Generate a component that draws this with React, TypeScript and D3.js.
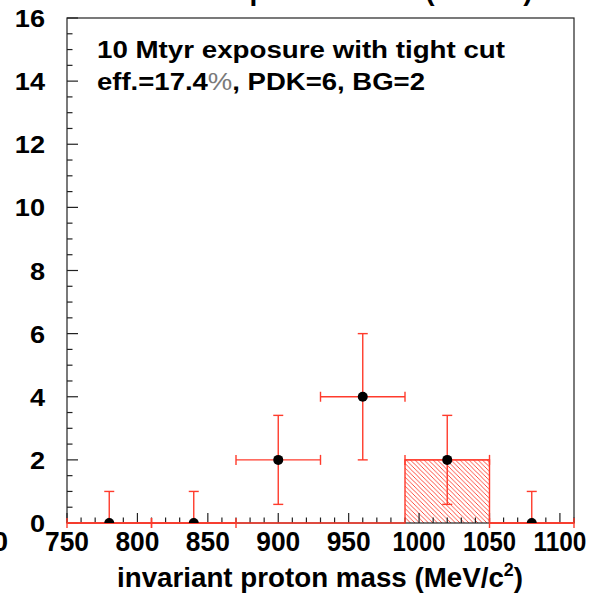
import React from "react"
import { scaleLinear, line, range } from "d3"

// bins of the invariant mass histogram (MeV/c^2)
const binCenters = [780, 840, 900, 960, 1020, 1080]
const binWidth = 60
const observed = [0, 0, 2, 4, 2, 0]
const errLow = [0, 0, 1.41, 2, 1.41, 0]
const errHigh = [1, 1, 1.41, 2, 1.41, 1]
const background = [0, 0, 0, 0, 2, 0]

const xTicks = [750, 800, 850, 900, 950, 1000, 1050, 1100]
const yTicks = [0, 2, 4, 6, 8, 10, 12, 14, 16]

const RED = "#ff3b2c"
const FONT = "'Liberation Sans', Arial, Helvetica, sans-serif"

const App = () => {
  const width = 593
  const height = 600
  const margin = { top: 18, right: 19, bottom: 77, left: 67 }
  const innerRight = width - margin.right
  const innerBottom = height - margin.bottom

  const x = scaleLinear().domain([750, 1110]).range([margin.left, innerRight])
  const y = scaleLinear().domain([0, 16]).range([innerBottom, margin.top])

  const minorX = range(750, 1111, 10)
  const minorY = range(0, 16.01, 0.5)

  // background histogram outline (step)
  const bgPoints: [number, number][] = [[750, 0]]
  binCenters.forEach((c, i) => {
    bgPoints.push([c - binWidth / 2, background[i]])
    bgPoints.push([c + binWidth / 2, background[i]])
  })
  bgPoints.push([1110, 0])
  const bgPath = line<[number, number]>()
    .x((d) => x(d[0]))
    .y((d) => y(d[1]))(bgPoints)

  const cap = 5

  return (
    <svg
      width={width}
      height={height}
      style={{ position: "absolute", left: 0, top: 0, background: "white" }}
      fontFamily={FONT}
    >
      <defs>
        <clipPath id="frame">
          <rect
            x={margin.left}
            y={margin.top}
            width={innerRight - margin.left}
            height={innerBottom - margin.top}
          />
        </clipPath>
        <pattern id="hatch" width={4.5} height={4.5} patternUnits="userSpaceOnUse">
          <path
            d="M-1,-1 L5.5,5.5 M-1,3.5 L1,5.5 M3.5,-1 L5.5,1"
            stroke={RED}
            strokeWidth={0.9}
          />
        </pattern>
      </defs>
      <rect width={width} height={height} fill="white" />

      {/* cut-off title of the original figure */}
      <text x={125} y={0} fontSize={28} fontWeight="bold">
        Invariant proton mass (events)
      </text>
      {/* leftover label of a neighbouring panel */}
      <text x={8} y={551} fontSize={28} fontWeight="bold" textAnchor="end">
        1100
      </text>

      {/* background histogram */}
      {binCenters.map((c, i) =>
        background[i] > 0 ? (
          <rect
            key={"bg" + i}
            x={x(c - binWidth / 2)}
            y={y(background[i])}
            width={x(c + binWidth / 2) - x(c - binWidth / 2)}
            height={y(0) - y(background[i])}
            fill="url(#hatch)"
          />
        ) : null
      )}

      {/* frame */}
      <rect
        x={margin.left}
        y={margin.top}
        width={innerRight - margin.left}
        height={innerBottom - margin.top}
        fill="none"
        stroke="#222"
        strokeWidth={1.2}
      />

      {/* y ticks */}
      {minorY.map((v) => {
        const major = Math.abs(v % 2) < 1e-6
        return (
          <line
            key={"yt" + v}
            x1={margin.left}
            x2={margin.left + (major ? 11 : 5.5)}
            y1={y(v)}
            y2={y(v)}
            stroke="#222"
            strokeWidth={1.2}
          />
        )
      })}
      {yTicks.map((v) => (
        <text
          key={"yl" + v}
          transform={`translate(45, ${y(v) + 9}) scale(1.18, 1)`}
          textAnchor="end"
          fontSize={23}
          fontWeight="bold"
        >
          {v}
        </text>
      ))}

      {/* x ticks */}
      {minorX.map((v) => {
        const major = v % 50 === 0
        return (
          <line
            key={"xt" + v}
            x1={x(v)}
            x2={x(v)}
            y1={innerBottom}
            y2={innerBottom - (major ? 10 : 5.5)}
            stroke="#222"
            strokeWidth={1.2}
          />
        )
      })}
      {xTicks.map((v) => (
        <text
          key={"xl" + v}
          x={x(v)}
          y={551}
          textAnchor="middle"
          fontSize={28}
          fontWeight="bold"
          textLength={v >= 1000 ? 53 : 44}
          lengthAdjust="spacingAndGlyphs"
        >
          {v}
        </text>
      ))}

      {/* background outline */}
      <path d={bgPath || ""} fill="none" stroke={RED} strokeWidth={1.4} />

      {/* error bars */}
      {binCenters.map((c, i) => {
        const cx = x(c)
        const cy = y(observed[i])
        const xl = x(c - binWidth / 2)
        const xr = x(c + binWidth / 2)
        const yTop = y(observed[i] + errHigh[i])
        const yBot = y(observed[i] - errLow[i])
        return (
          <g key={"eb" + i} stroke={RED} strokeWidth={1.4} fill="none">
            <line x1={xl} x2={xr} y1={cy} y2={cy} />
            <line x1={xl} x2={xl} y1={cy - cap} y2={cy + cap} />
            <line x1={xr} x2={xr} y1={cy - cap} y2={cy + cap} />
            <line x1={cx} x2={cx} y1={yTop} y2={yBot} />
            <line x1={cx - cap} x2={cx + cap} y1={yTop} y2={yTop} />
            {errLow[i] > 0 && <line x1={cx - cap} x2={cx + cap} y1={yBot} y2={yBot} />}
          </g>
        )
      })}

      {/* markers */}
      <g clipPath="url(#frame)">
        {binCenters.map((c, i) => (
          <circle key={"m" + i} cx={x(c)} cy={y(observed[i])} r={5} fill="black" />
        ))}
      </g>

      {/* legend text */}
      <text
        x={97}
        y={58}
        fontSize={23}
        fontWeight="bold"
        textLength={408}
        lengthAdjust="spacingAndGlyphs"
      >
        10 Mtyr exposure with tight cut
      </text>
      <text
        x={97}
        y={90}
        fontSize={23}
        fontWeight="bold"
        textLength={328}
        lengthAdjust="spacingAndGlyphs"
      >
        eff.=17.4
        <tspan fill="#7a7a7a" fontWeight="normal">%</tspan>
        , PDK=6, BG=2
      </text>

      {/* x axis title */}
      <text
        x={523}
        y={587}
        textAnchor="end"
        fontSize={28}
        fontWeight="bold"
        textLength={406}
        lengthAdjust="spacingAndGlyphs"
      >
        invariant proton mass (MeV/c
        <tspan fontSize={18} dy={-11}>2</tspan>
        <tspan dy={11}>)</tspan>
      </text>
    </svg>
  )
}

export default App
